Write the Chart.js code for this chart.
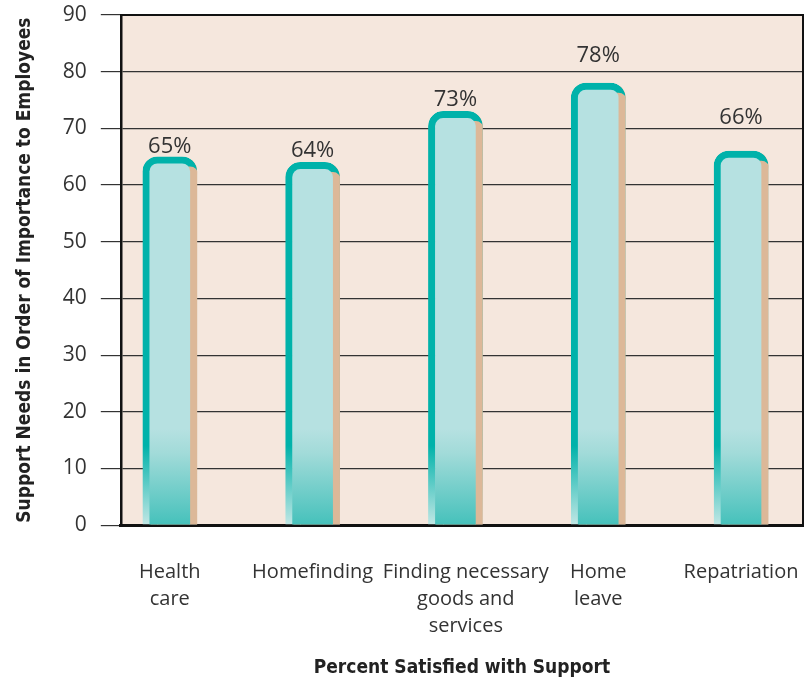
<!DOCTYPE html>
<html>
<head>
<meta charset="utf-8">
<script src="https://cdn.jsdelivr.net/npm/chart.js@4"></script>
<style>
  html, body { margin: 0; padding: 0; background: #ffffff; }
  #wrap { width: 806px; height: 679px; }
</style>
</head>
<body>
<div id="wrap"><canvas id="chart" width="806" height="679"></canvas></div>
<script>
// categories (two-or-three line labels) and percent values
var kategorien = [
    ["Health", "care"],
    ["Homefinding"],
    ["    Finding necessary", "    goods and", "    services"],
    ["Home", "leave"],
    ["Repatriation"]
];
var positionen = [0, 1, 2, 3, 4];
var werte = [65, 64, 73, 78, 66];
var y_ticks = [0, 10, 20, 30, 40, 50, 60, 70, 80, 90];

// abstand der prozent-labels ueber dem balken (px), wie im original
var label_abstand = [4, 5, 5, 21, 27];

var punkte = [];
for (var i = 0; i < werte.length; i++) {
    punkte.push({ x: positionen[i], y: werte[i] });
}

function fuellung(context) {
    var chart = context.chart;
    if (!chart.chartArea) return '#b6e1e1';
    var y = chart.scales.y;
    var g = chart.ctx.createLinearGradient(0, y.getPixelForValue(17), 0, y.getPixelForValue(0));
    g.addColorStop(0, '#b6e1e1');
    g.addColorStop(0.25, '#a2dbd9');
    g.addColorStop(1, '#45c1bb');
    return g;
}

function rand(context) {
    var chart = context.chart;
    if (!chart.chartArea) return '#00b2aa';
    var y = chart.scales.y;
    var g = chart.ctx.createLinearGradient(0, y.getPixelForValue(14), 0, y.getPixelForValue(0));
    g.addColorStop(0, '#00b2aa');
    g.addColorStop(1, '#c2e7e5');
    return g;
}

var hintergrund = {
    id: 'hintergrund',
    beforeDraw: function(chart) {
        var ca = chart.chartArea;
        var ctx = chart.ctx;
        ctx.save();
        ctx.fillStyle = '#f5e7dd';
        ctx.fillRect(ca.left, ca.top, ca.right - ca.left, ca.bottom - ca.top);
        ctx.restore();
    },
    beforeDatasetDraw: function(chart) {
        var ctx = chart.ctx;
        ctx.save();
        ctx.shadowColor = '#dcb898';
        ctx.shadowOffsetX = 8;
        ctx.shadowOffsetY = 3;
        ctx.shadowBlur = 0;
    },
    afterDatasetDraw: function(chart) {
        chart.ctx.restore();
    },
    afterDatasetsDraw: function(chart) {
        var ctx = chart.ctx;
        var ca = chart.chartArea;
        ctx.save();
        // rahmen oben + rechts
        ctx.strokeStyle = '#111';
        ctx.lineWidth = 2;
        ctx.beginPath();
        ctx.moveTo(ca.left, ca.top);
        ctx.lineTo(ca.right, ca.top);
        ctx.lineTo(ca.right, ca.bottom);
        ctx.stroke();
        // werte ueber den balken
        ctx.fillStyle = '#333';
        ctx.font = '22px "Open Sans"';
        ctx.textAlign = 'center';
        ctx.textBaseline = 'alphabetic';
        var meta = chart.getDatasetMeta(0);
        meta.data.forEach(function(bar, i) {
            ctx.fillText(werte[i] + '%', bar.x, bar.y - label_abstand[i]);
        });
        ctx.restore();
    }
};

var titel_font = "'DejaVu Sans Condensed', 'Liberation Sans', sans-serif";

var ctx = document.getElementById('chart').getContext('2d');
var myChart = new Chart(ctx, {
    type: 'bar',
    data: {
        datasets: [
        {
            label: "Percent Satisfied",
            data: punkte,
            backgroundColor: fuellung,
            borderColor: rand,
            borderWidth: 7,
            borderSkipped: 'bottom',
            borderRadius: { topLeft: 15, topRight: 15 },
            barThickness: 54,
            clip: 0
        }
        ]
    },
    options: {
        responsive: false,
        animation: false,
        layout: { padding: { top: 15, right: 3, bottom: 0, left: 14 } },
        plugins: {
            legend: { display: false },
            tooltip: { enabled: false }
        },
        scales: {
            x: {
                type: 'linear',
                offset: false,
                min: -0.343,
                max: 4.434,
                afterBuildTicks: function(axis) {
                    axis.ticks = positionen.map(function(v) { return { value: v }; });
                },
                afterFit: function(axis) {
                    axis.paddingLeft = 0;
                    axis.paddingRight = 0;
                },
                grid: { display: false },
                border: { display: true, color: '#111', width: 3 },
                ticks: {
                    autoSkip: false,
                    maxRotation: 0,
                    padding: 26,
                    color: '#333',
                    font: { family: 'Open Sans', size: 20, lineHeight: 1.35 },
                    callback: function(value) { return kategorien[value]; }
                },
                title: {
                    display: true,
                    text: 'Percent Satisfied with Support',
                    color: '#222',
                    font: { family: titel_font, size: 19, weight: 'bold' },
                    padding: { top: -10, bottom: 0 }
                }
            },
            y: {
                min: 0,
                max: 90,
                afterBuildTicks: function(axis) {
                    axis.ticks = y_ticks.map(function(v) { return { value: v }; });
                },
                afterFit: function(axis) {
                    axis.paddingTop = 0;
                    axis.paddingBottom = 0;
                },
                grid: { color: '#333', lineWidth: 1.2, tickLength: 20 },
                border: { display: true, color: '#111', width: 2.5 },
                ticks: {
                    padding: 14,
                    color: '#333',
                    font: { family: 'Open Sans', size: 21 }
                },
                title: {
                    display: true,
                    text: 'Support Needs in Order of Importance to Employees',
                    color: '#222',
                    font: { family: titel_font, size: 19, weight: 'bold' },
                    padding: { top: 0, bottom: 12 }
                }
            }
        }
    },
    plugins: [hintergrund]
});
</script>
</body>
</html>
